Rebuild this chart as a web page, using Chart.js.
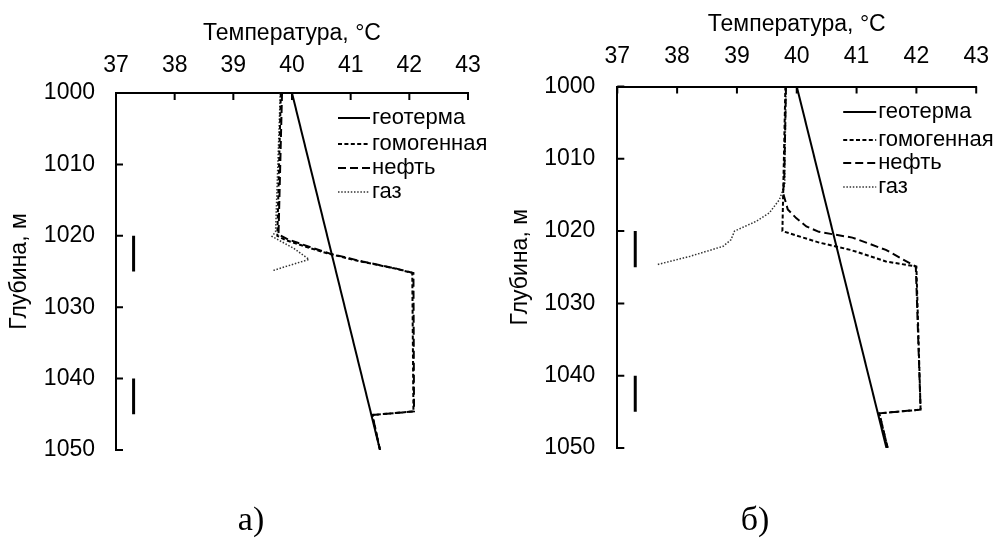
<!DOCTYPE html>
<html>
<head>
<meta charset="utf-8">
<script src="https://cdn.jsdelivr.net/npm/chart.js@4.4.1/dist/chart.umd.min.js"></script>
<style>
  html, body { margin: 0; padding: 0; background: #fff; }
  #wrap { position: relative; width: 1005px; height: 544px; overflow: hidden; }
  canvas { position: absolute; top: 0; }
  #chartA { left: 0; }
  #chartB { left: 502px; }
  .cap { position: absolute; top: 502px; font-family: "Liberation Serif", serif; font-size: 34px; line-height: 1; color: #000; transform: translateX(-50%); }
</style>
</head>
<body>
<div id="wrap">
  <canvas id="chartA" width="502" height="544"></canvas>
  <canvas id="chartB" width="503" height="544"></canvas>
  <div class="cap" style="left:251px">а)</div>
  <div class="cap" style="left:755px">б)</div>
</div>
<script>
// Axis titles and tick values
const xTitle = 'Температура, °C';
const yTitle = 'Глубина, м';
const tempTicks = [37, 38, 39, 40, 41, 42, 43];
const depthTicks = [1000, 1010, 1020, 1030, 1040, 1050];
const seriesNames = ['геотерма', 'гомогенная', 'нефть', 'газ'];

// Perforated intervals (depth, m) shown as bars at 37.3 °C
const perfTemp = 37.3;
const perfTop = [1020, 1040];
const perfBottom = [1025, 1045];

// а) profiles
const geoDepthA = [1000, 1050];
const geoTempA = [40.0, 41.5];
const homDepthA = [1000, 1020.0, 1020.6, 1021.75, 1022.45, 1023.6, 1024.55, 1025.2, 1044.6, 1045.1, 1050];
const homTempA = [39.81, 39.75, 39.89, 40.32, 40.60, 41.17, 41.74, 42.05, 42.07, 41.37, 41.50];
const oilDepthA = [1000, 1019.8, 1020.5, 1021.7, 1022.5, 1023.6, 1024.6, 1025.2, 1044.6, 1045.1, 1050];
const oilTempA = [39.83, 39.77, 39.93, 40.35, 40.65, 41.20, 41.78, 42.07, 42.08, 41.37, 41.50];
const gasDepthA = [1000, 1019.4, 1020.1, 1021.75, 1023.3, 1024.9];
const gasTempA = [39.80, 39.72, 39.66, 40.03, 40.29, 39.66];

// б) profiles
const geoDepthB = [1000, 1050];
const geoTempB = [40.0, 41.5];
const homDepthB = [1000, 1020.0, 1021.6, 1022.6, 1024.2, 1024.9, 1044.7, 1045.2, 1050];
const homTempB = [39.81, 39.76, 40.38, 40.90, 41.49, 42.00, 42.07, 41.38, 41.52];
const oilDepthB = [1000, 1013.0, 1014.7, 1017.0, 1018.2, 1019.35, 1020.1, 1020.9, 1022.6, 1024.9, 1044.7, 1045.2, 1050];
const oilTempB = [39.82, 39.79, 39.77, 39.85, 39.99, 40.16, 40.37, 40.93, 41.49, 41.99, 42.07, 41.38, 41.52];
const gasDepthB = [1000, 1012.0, 1013.6, 1015.65, 1017.5, 1018.65, 1020.0, 1021.2, 1022.1, 1023.5, 1024.65];
const gasTempB = [39.82, 39.80, 39.80, 39.71, 39.54, 39.32, 38.96, 38.90, 38.77, 38.21, 37.66];

const FONT = { family: '"Liberation Sans", Arial, sans-serif', size: 23 };

function pts(temps, depths) {
  return temps.map((t, i) => ({ x: t, y: depths[i] }));
}

function perfPoints() {
  const out = [];
  perfTop.forEach((d, i) => {
    out.push({ x: perfTemp, y: d }, { x: perfTemp, y: perfBottom[i] }, { x: perfTemp, y: null });
  });
  return out;
}

const styles = [
  { borderWidth: 2, borderDash: [] },
  { borderWidth: 2, borderDash: [4, 2.4] },
  { borderWidth: 2, borderDash: [8, 4] },
  { borderWidth: 1.5, borderDash: [1.5, 1.7], borderColor: '#333' }
];

// Tick marks pointing into the plot area
const innerTicks = {
  id: 'innerTicks',
  afterDraw(chart) {
    const { ctx, chartArea: a, scales: { x, y } } = chart;
    ctx.save();
    ctx.strokeStyle = '#000';
    ctx.lineWidth = 2;
    ctx.beginPath();
    x.ticks.forEach(t => {
      const px = x.getPixelForValue(t.value);
      ctx.moveTo(px, a.top);
      ctx.lineTo(px, a.top + 7);
    });
    y.ticks.forEach(t => {
      const py = y.getPixelForValue(t.value);
      ctx.moveTo(a.left, py);
      ctx.lineTo(a.left + 7, py);
    });
    ctx.stroke();
    ctx.restore();
  }
};

// Line-sample legend inside the plot, upper right
const lineLegend = {
  id: 'lineLegend',
  afterDraw(chart, args, opts) {
    const { ctx, chartArea: a } = chart;
    ctx.save();
    ctx.font = opts.fontSize + 'px ' + FONT.family;
    ctx.textBaseline = 'middle';
    ctx.textAlign = 'left';
    ctx.fillStyle = '#000';
    const x0 = a.right - opts.fromRight;
    opts.rows.forEach((dy, i) => {
      const ds = chart.data.datasets[i];
      const yy = a.top + dy;
      ctx.beginPath();
      ctx.strokeStyle = ds.borderColor;
      ctx.lineWidth = ds.borderWidth;
      ctx.setLineDash(ds.borderDash || []);
      ctx.moveTo(x0, yy);
      ctx.lineTo(x0 + opts.sample, yy);
      ctx.stroke();
      ctx.setLineDash([]);
      ctx.fillText(ds.label, x0 + opts.sample + 2, yy);
    });
    ctx.restore();
  }
};

function makeChart(id, series, g) {
  const datasets = series.map((s, i) => Object.assign({
    label: seriesNames[i],
    data: pts(s[0], s[1]),
    borderColor: '#000',
    showLine: true,
    pointRadius: 0,
    fill: false,
    tension: 0
  }, styles[i]));
  datasets.push({
    label: 'perforation',
    data: perfPoints(),
    borderColor: '#000',
    borderWidth: 3,
    showLine: true,
    spanGaps: false,
    pointRadius: 0
  });
  return new Chart(document.getElementById(id), {
    type: 'scatter',
    data: { datasets },
    options: {
      responsive: false,
      animation: false,
      layout: { padding: { left: 0, top: 0, right: g.padRight, bottom: g.padBottom } },
      plugins: {
        legend: { display: false },
        tooltip: { enabled: false },
        lineLegend: { fromRight: g.legendFromRight, sample: g.sample, rows: g.rows, fontSize: 22 }
      },
      scales: {
        x: {
          type: 'linear', position: 'top', min: tempTicks[0], max: tempTicks[tempTicks.length - 1],
          afterBuildTicks(s) { s.ticks = tempTicks.map(v => ({ value: v })); },
          ticks: { padding: g.xTickPad, font: FONT, color: '#000', maxRotation: 0, callback: v => String(v) },
          grid: { display: false, drawTicks: false },
          border: { display: true, color: '#000', width: 2 },
          title: { display: true, text: xTitle, font: FONT, color: '#000', padding: { top: g.xTitlePad, bottom: 0 } },
          afterFit(s) { s.height = g.top; }
        },
        y: {
          type: 'linear', position: 'left', reverse: true, min: depthTicks[0], max: depthTicks[depthTicks.length - 1],
          afterBuildTicks(s) { s.ticks = depthTicks.map(v => ({ value: v })); },
          ticks: { padding: g.yTickPad, font: FONT, color: '#000', callback: v => String(v) },
          grid: { display: false, drawTicks: false },
          border: { display: true, color: '#000', width: 2 },
          title: { display: true, text: yTitle, font: FONT, color: '#000', padding: { top: g.yTitlePad, bottom: 0 } },
          afterFit(s) { s.width = g.left; }
        }
      }
    },
    plugins: [innerTicks, lineLegend]
  });
}

makeChart('chartA', [
  [geoTempA, geoDepthA], [homTempA, homDepthA], [oilTempA, oilDepthA], [gasTempA, gasDepthA]
], { left: 116, top: 93, padRight: 34, padBottom: 94, xTickPad: 14, xTitlePad: 20, yTickPad: 21, yTitlePad: 6,
     legendFromRight: 130, sample: 32, rows: [25, 51, 75, 99] });

makeChart('chartB', [
  [geoTempB, geoDepthB], [homTempB, homDepthB], [oilTempB, oilDepthB], [gasTempB, gasDepthB]
], { left: 115.3, top: 86.5, padRight: 28, padBottom: 96, xTickPad: 16, xTitlePad: 11, yTickPad: 22, yTitlePad: 4.5,
     legendFromRight: 133, sample: 33, rows: [25.5, 53.5, 76.5, 100.5] });
</script>
</body>
</html>
